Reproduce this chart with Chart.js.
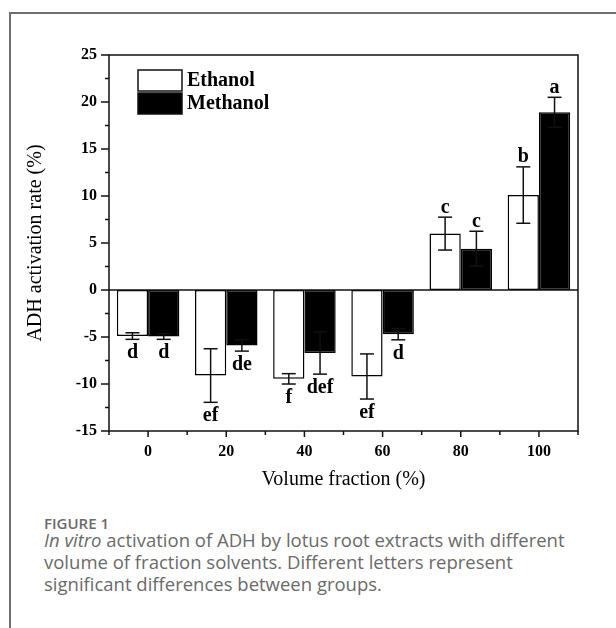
<!DOCTYPE html>
<html>
<head>
<meta charset="utf-8">
<script src="https://cdn.jsdelivr.net/npm/chart.js@4.4.0/dist/chart.umd.min.js"></script>
<style>
  html, body { margin: 0; padding: 0; background: #fff; }
  body { width: 616px; height: 628px; position: relative; overflow: hidden; }
  #frame { position: absolute; left: 9px; top: 12px; right: -4px; bottom: -4px;
           border-left: 2px solid #6e6e6e; border-top: 2px solid #6e6e6e; }
  #wrap { position: absolute; left: 0; top: 0; width: 616px; height: 500px; }
  #caption { position: absolute; left: 44px; top: 515px; font-family: "Open Sans", sans-serif; color: #6a6a6a; }
  .fig { font-size: 15px; font-weight: 600; line-height: 17px; }
  .txt { font-size: 18.5px; line-height: 22px; margin-top: -3px; }
</style>
</head>
<body>
<div id="frame"></div>
<div id="wrap"><canvas id="chart" width="616" height="500"></canvas></div>
<div id="caption">
  <div class="fig">FIGURE 1</div>
  <div class="txt"><i>In vitro</i> activation of ADH by lotus root extracts with different<br>volume of fraction solvents. Different letters represent<br>significant differences between groups.</div>
</div>
<script>
// data
const categories = ['0', '20', '40', '60', '80', '100'];
const ethanol = [-4.9, -9.1, -9.45, -9.2, 6.0, 10.1];
const ethanolErr = [0.35, 2.85, 0.55, 2.4, 1.75, 3.0];
const methanol = [-4.95, -5.9, -6.7, -4.7, 4.4, 18.9];
const methanolErr = [0.3, 0.6, 2.25, 0.6, 1.85, 1.6];
const ethanolLetters = ['d', 'ef', 'f', 'ef', 'c', 'b'];
const methanolLetters = ['d', 'de', 'def', 'd', 'c', 'a'];
const yMin = -15, yMax = 25, yStep = 5;

const serif = '"Liberation Serif", "Times New Roman", serif';

function line(ctx, x1, y1, x2, y2) {
    ctx.beginPath();
    ctx.moveTo(x1, y1);
    ctx.lineTo(x2, y2);
    ctx.stroke();
}

// axes box, ticks, error bars, letters and legend
const decorPlugin = {
    id: 'decor',
    afterDatasetsDraw(chart) {
        const ctx = chart.ctx;
        const a = chart.chartArea;
        const x = chart.scales.x, y = chart.scales.y;
        ctx.save();
        ctx.strokeStyle = '#111';
        ctx.lineWidth = 1.5;

        // error bars and significance letters
        const errs = [ethanolErr, methanolErr];
        const letters = [ethanolLetters, methanolLetters];
        ctx.font = 'bold 20px ' + serif;
        ctx.textAlign = 'center';
        ctx.textBaseline = 'alphabetic';
        ctx.fillStyle = '#000';
        chart.data.datasets.forEach((ds, di) => {
            chart.getDatasetMeta(di).data.forEach((bar, i) => {
                const v = ds.data[i], e = errs[di][i];
                const yHi = y.getPixelForValue(v + e);
                const yLo = y.getPixelForValue(v - e);
                line(ctx, bar.x, yHi, bar.x, yLo);
                line(ctx, bar.x - 7, yHi, bar.x + 7, yHi);
                line(ctx, bar.x - 7, yLo, bar.x + 7, yLo);
                const ty = v >= 0 ? yHi - 4.5 : yLo + 19;
                ctx.fillText(letters[di][i], bar.x, ty);
            });
        });

        // plot box and zero line
        ctx.strokeRect(a.left, a.top, a.right - a.left, a.bottom - a.top);
        const y0 = y.getPixelForValue(0);
        line(ctx, a.left, y0, a.right, y0);

        // y ticks (major + minor)
        for (let v = yMin; v <= yMax; v += yStep / 2) {
            const py = y.getPixelForValue(v);
            const len = v % yStep === 0 ? 8 : 4;
            line(ctx, a.left - len, py, a.left, py);
        }
        // x ticks: major at categories, minor between
        categories.forEach((c, i) => {
            const px = x.getPixelForValue(i);
            line(ctx, px, a.bottom, px, a.bottom + 6);
        });
        for (let i = 0; i <= categories.length; i++) {
            const px = x.getPixelForValue(i - 0.5);
            line(ctx, px, a.bottom, px, a.bottom + 4);
        }

        // legend inside the plot
        ctx.font = 'bold 20px ' + serif;
        ctx.textAlign = 'left';
        ctx.textBaseline = 'middle';
        chart.data.datasets.forEach((ds, i) => {
            const bx = a.left + 29, by = a.top + 15 + i * 23;
            ctx.fillStyle = ds.backgroundColor;
            ctx.fillRect(bx, by, 44, 21);
            ctx.strokeRect(bx, by, 44, 21);
            ctx.fillStyle = '#000';
            ctx.fillText(ds.label, bx + 49, by + 11);
        });
        ctx.restore();
    }
};

new Chart(document.getElementById('chart'), {
    type: 'bar',
    data: {
        labels: categories,
        datasets: [
            {
                label: 'Ethanol',
                data: ethanol,
                backgroundColor: '#ffffff',
                borderColor: '#000000',
                borderWidth: 1.5,
                borderSkipped: false
            },
            {
                label: 'Methanol',
                data: methanol,
                backgroundColor: '#000000',
                borderColor: '#000000',
                borderWidth: 1.5,
                borderSkipped: false
            }
        ]
    },
    options: {
        responsive: false,
        animation: false,
        devicePixelRatio: 1,
        layout: { padding: { top: 55, right: 38, left: 0, bottom: 0 } },
        datasets: { bar: { categoryPercentage: 0.8, barPercentage: 1.0 } },
        plugins: { legend: { display: false }, tooltip: { enabled: false } },
        scales: {
            x: {
                grid: { display: false, drawTicks: false },
                border: { display: false },
                ticks: { color: '#000', padding: 11, font: { family: serif, size: 16, weight: 'bold' } },
                title: { display: true, text: 'Volume fraction (%)', color: '#000',
                         padding: { top: 0, bottom: 8 }, font: { family: serif, size: 20 } },
                afterFit(scale) { scale.height = 69; }
            },
            y: {
                min: yMin,
                max: yMax,
                grid: { display: false, drawTicks: false },
                border: { display: false },
                ticks: { stepSize: yStep, color: '#000', padding: 12,
                         font: { family: serif, size: 16, weight: 'bold' } },
                title: { display: true, text: 'ADH activation rate (%)', color: '#000',
                         padding: { top: 24, bottom: 0 }, font: { family: serif, size: 20 } },
                afterFit(scale) { scale.width = 109; }
            }
        }
    },
    plugins: [decorPlugin]
});
</script>
</body>
</html>
